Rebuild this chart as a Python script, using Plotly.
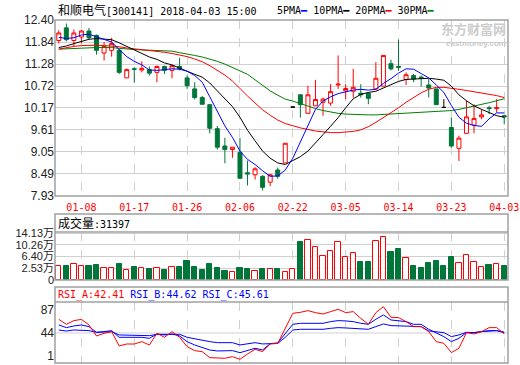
import numpy as np
import plotly.graph_objects as go

dates = ["01-03","01-04","01-05","01-08","01-09","01-10","01-11","01-12","01-15","01-16",
         "01-17","01-18","01-19","01-22","01-23","01-24","01-25","01-26","01-29","01-30",
         "01-31","02-01","02-02","02-05","02-06","02-07","02-08","02-09","02-12","02-13",
         "02-14","02-22","02-23","02-26","02-27","02-28","03-01","03-02","03-05","03-06",
         "03-07","03-08","03-09","03-12","03-13","03-14","03-15","03-16","03-19","03-20",
         "03-21","03-22","03-23","03-26","03-27","03-28","03-29","03-30","04-02","04-03"]

open_p = [11.88,12.20,11.88,11.97,12.12,12.01,11.56,11.63,11.63,10.93,
          11.16,11.13,11.14,11.07,11.22,11.12,11.22,10.93,10.65,10.43,
          10.25,9.64,9.20,9.11,9.04,8.52,8.47,8.43,8.28,8.59,
          8.77,10.19,10.50,10.03,10.22,10.31,10.29,10.75,10.60,10.59,
          10.54,10.54,10.65,10.72,11.29,11.22,10.89,10.99,10.95,10.75,
          10.65,10.18,9.67,9.14,9.52,9.73,9.94,10.17,10.15,9.97]
high_p = [12.14,12.31,12.16,12.15,12.20,12.03,11.84,11.95,11.67,11.17,
          11.20,11.35,11.22,11.24,11.24,11.26,11.44,10.99,10.82,10.47,
          10.25,9.71,9.41,9.17,9.41,8.83,8.66,8.46,8.49,8.65,
          9.27,10.19,10.51,10.73,10.88,10.43,10.77,11.50,10.77,11.16,
          10.77,10.56,11.33,11.50,11.39,11.90,11.07,11.03,10.99,10.90,
          10.65,10.39,9.92,9.46,10.35,10.26,10.13,10.22,10.39,9.97]
low_p = [11.80,11.86,11.73,11.81,11.91,11.52,11.37,11.47,11.03,10.93,
         10.81,11.07,10.99,10.82,11.03,10.92,11.12,10.65,10.38,10.25,
         9.52,9.11,8.76,8.90,8.37,8.20,8.35,8.07,8.18,8.37,
         8.77,10.19,9.92,10.02,10.22,9.97,10.22,10.65,10.39,10.43,
         10.43,10.26,10.62,10.72,11.12,11.11,10.75,10.82,10.71,10.43,
         10.25,10.18,9.16,8.82,9.52,9.52,9.88,10.01,10.05,9.75]
close_p = [12.07,11.90,12.07,12.12,11.95,11.63,11.73,11.80,11.07,11.14,
           11.15,11.17,11.05,11.22,11.12,11.24,11.16,10.73,10.43,10.26,
           9.65,9.17,9.11,9.17,8.38,8.49,8.62,8.15,8.47,8.43,
           9.27,10.19,10.25,10.50,10.38,10.39,10.58,10.77,10.66,10.69,
           10.50,10.41,10.92,11.50,11.16,11.20,11.01,10.90,10.93,10.67,
           10.25,10.18,9.20,9.40,9.94,9.90,9.99,10.15,10.17,9.94]

ma5 = [11.96,11.93,11.95,12.02,12.04,11.97,11.90,11.84,11.65,11.47,
       11.35,11.26,11.13,11.12,11.14,11.16,11.15,11.10,10.99,10.82,
       10.45,10.06,9.71,9.42,9.07,8.86,8.73,8.57,8.43,8.44,
       8.59,8.89,9.30,9.74,10.13,10.34,10.45,10.53,10.57,10.62,
       10.64,10.62,10.64,10.79,10.91,11.05,11.16,11.15,11.04,10.93,
       10.75,10.56,10.23,9.93,9.78,9.72,9.70,9.89,10.04,10.04]
ma10 = [11.70,11.74,11.80,11.86,11.91,11.93,11.92,11.90,11.82,11.73,
        11.62,11.54,11.46,11.40,11.31,11.26,11.17,11.10,11.02,10.95,
        10.80,10.60,10.40,10.20,9.93,9.60,9.33,9.07,8.89,8.77,
        8.73,8.83,8.93,9.07,9.29,9.49,9.70,9.92,10.17,10.40,
        10.51,10.56,10.59,10.67,10.77,10.84,10.89,10.90,10.92,10.92,
        10.90,10.87,10.72,10.50,10.35,10.22,10.13,10.05,9.97,9.93]
ma20 = [11.66,11.70,11.73,11.75,11.76,11.76,11.75,11.74,11.72,11.69,
        11.67,11.65,11.63,11.61,11.58,11.55,11.51,11.47,11.41,11.34,
        11.24,11.13,11.00,10.85,10.65,10.47,10.29,10.12,9.98,9.86,
        9.77,9.71,9.66,9.62,9.58,9.56,9.54,9.54,9.55,9.57,
        9.61,9.69,9.80,9.92,10.04,10.17,10.31,10.44,10.55,10.64,
        10.69,10.69,10.67,10.64,10.61,10.58,10.55,10.52,10.48,10.43]
ma30 = [11.66,11.67,11.68,11.69,11.70,11.70,11.70,11.70,11.68,11.66,
        11.65,11.64,11.63,11.63,11.62,11.61,11.57,11.54,11.50,11.46,
        11.41,11.35,11.28,11.20,11.12,11.02,10.88,10.73,10.60,10.49,
        10.39,10.34,10.27,10.21,10.15,10.10,10.06,10.03,10.01,10.00,
        9.99,9.99,9.99,10.00,10.01,10.02,10.03,10.04,10.05,10.06,
        10.07,10.08,10.10,10.13,10.17,10.21,10.25,10.30,10.35,10.40]

volume = [33000,33000,38600,33000,33000,36300,25400,25400,39600,19800,
          30700,25400,23100,25400,19800,30700,29700,49600,30700,19800,
          39600,27400,16400,12100,27400,23100,16400,23100,23100,23100,
          12100,23100,113500,119200,95000,66100,82700,111500,61800,75100,
          45300,45300,115800,128100,78400,89300,58500,33000,25400,42000,
          49600,33000,61800,42000,69500,45300,28700,36300,38600,31397]

rsi_a = [69.5,60.2,67.0,69.5,59.0,38.4,43.4,46.5,19.7,23.4,
         23.4,27.8,21.6,43.4,35.9,46.5,35.9,18.5,11.0,9.1,
         -2.1,-3.3,-3.3,-0.2,-5.2,4.7,13.5,9.2,23.5,24.5,
         52.8,80.8,82.6,85.8,82.0,79.5,83.9,88.3,82.0,83.9,
         71.4,60.2,82.0,93.2,73.3,72.7,65.2,55.9,55.9,46.5,
         27.8,24.7,7.3,15.4,44.7,42.2,46.5,54.0,54.0,42.41]
rsi_b = [59.0,54.0,57.1,59.0,55.8,45.2,46.5,48.4,35.9,35.9,
         35.9,35.9,34.0,42.1,40.3,42.1,38.4,27.8,21.6,16.6,
         12.2,10.4,10.4,11.0,7.2,11.0,15.3,12.3,24.0,25.5,
         43.4,60.2,62.1,62.1,62.1,62.1,65.2,67.1,66.5,65.2,
         62.1,60.2,69.6,77.7,68.3,67.1,65.2,60.2,60.2,50.9,
         43.4,37.2,27.8,34.1,44.7,44.7,46.5,48.4,48.4,44.62]
rsi_c = [49.6,47.7,49.6,49.6,48.4,45.2,45.2,46.5,40.3,40.3,
         40.3,40.3,39.0,41.5,41.5,42.1,41.5,35.9,32.8,30.9,
         27.8,25.9,25.9,25.9,21.6,23.4,25.9,23.5,24.0,24.5,
         35.9,49.6,50.9,50.9,50.9,50.9,52.7,54.0,53.4,52.7,
         51.5,50.9,55.9,60.9,57.8,57.1,55.9,55.9,55.9,47.8,
         46.5,44.7,37.2,40.3,45.3,44.7,46.5,47.8,48.4,45.61]

price_ticks = [7.93, 8.49, 9.05, 9.61, 10.17, 10.72, 11.28, 11.84, 12.40]
vol_tick_vals = [-13370, 25300, 64000, 102600, 141300]
vol_tick_text = ["0", "2.53万", "6.40万", "10.26万", "14.13万"]
rsi_ticks = [1, 44, 87]
label_dates = ["01-08", "01-17", "01-26", "02-06", "02-22", "03-05", "03-14", "03-23", "04-03"]

RED = "#ff0000"
GREEN = "#00753a"
GRID = "#d0d0d0"
BORDER = "#a0a0a0"
MONO = "DejaVu Sans Mono, Noto Sans CJK SC"
SANS = "Liberation Sans, Arial, Noto Sans CJK SC"

W, H, L, R = 520, 365, 55, 12
PW = W - L - R


def py(px):
    return 1 - px / H


def pxx(px):
    return (px - L) / PW


x = np.arange(len(dates))
o = np.array(open_p)
c = np.array(close_p)
hi = np.array(high_p)
lo = np.array(low_p)
flat = np.isclose(o, c)
prev = np.concatenate([[c[0]], c[:-1]])
up = (c > o) | (flat & (c >= prev))


def masked(arr, m):
    return [float(v) if mm else None for v, mm in zip(arr, m)]


fig = go.Figure()

fig.add_trace(go.Candlestick(
    x=x, open=masked(o, ~flat), high=masked(hi, ~flat), low=masked(lo, ~flat), close=masked(c, ~flat),
    increasing=dict(line=dict(color=RED, width=1), fillcolor="#ffffff"),
    decreasing=dict(line=dict(color=GREEN, width=1), fillcolor=GREEN),
    whiskerwidth=0, xaxis="x", yaxis="y", hoverinfo="skip"))
fig.add_trace(go.Candlestick(
    x=x, open=masked(o, flat), high=masked(hi, flat), low=masked(lo, flat), close=masked(c, flat),
    increasing=dict(line=dict(color="#000000", width=1), fillcolor="#000000"),
    decreasing=dict(line=dict(color="#000000", width=1), fillcolor="#000000"),
    whiskerwidth=0, xaxis="x", yaxis="y", hoverinfo="skip"))

for series, col in [(ma30, "#008000"), (ma20, RED), (ma10, "#000000"), (ma5, "#0000ff")]:
    fig.add_trace(go.Scatter(x=x, y=series, mode="lines", line=dict(color=col, width=1),
                             xaxis="x", yaxis="y", hoverinfo="skip"))

vmin = vol_tick_vals[0]
vol = np.array(volume, dtype=float)
fig.add_trace(go.Bar(
    x=x, y=vol - vmin, base=vmin, width=0.7,
    marker=dict(color=["#ffffff" if u else GREEN for u in up],
                line=dict(color=[RED if u else GREEN for u in up], width=1)),
    xaxis="x2", yaxis="y2", hoverinfo="skip"))

for series, col in [(rsi_c, "#0000ff"), (rsi_b, "#0000ff"), (rsi_a, RED)]:
    fig.add_trace(go.Scatter(x=x, y=series, mode="lines", line=dict(color=col, width=1),
                             xaxis="x3", yaxis="y3", hoverinfo="skip"))

tickpos = [dates.index(d) for d in label_dates]
xcommon = dict(range=[-0.5, len(dates) - 0.5], tickvals=tickpos, showgrid=True, griddash="dash",
               gridcolor=GRID, gridwidth=1, zeroline=False, showline=False, ticks="", fixedrange=True)

fig.update_layout(
    width=W, height=H, margin=dict(l=L, r=R, t=0, b=0, autoexpand=False),
    paper_bgcolor="#ffffff", plot_bgcolor="#ffffff", showlegend=False, bargap=0,
    boxgap=0.25,
    xaxis=dict(**xcommon, anchor="y", ticktext=label_dates, showticklabels=True, ticklabelstandoff=4,
               tickfont=dict(family=MONO, size=10, color=RED), rangeslider=dict(visible=False)),
    xaxis2=dict(**xcommon, anchor="y2", showticklabels=False),
    xaxis3=dict(**xcommon, anchor="y3", showticklabels=False),
    yaxis=dict(domain=[py(196), py(20)], range=[price_ticks[0], price_ticks[-1]],
               tickvals=price_ticks, ticktext=["%.2f" % v for v in price_ticks],
               showgrid=True, gridcolor=GRID, zeroline=False, ticks="",
               tickfont=dict(family=SANS, size=12, color="#222222"), fixedrange=True),
    yaxis2=dict(domain=[py(280), py(232)], range=[vmin, 145600],
                tickvals=vol_tick_vals, ticktext=vol_tick_text,
                showgrid=True, gridcolor=GRID, zeroline=False, ticks="",
                tickfont=dict(family=SANS, size=11, color="#222222"), fixedrange=True),
    yaxis3=dict(domain=[py(363), py(302)], range=[-12.1, 101.9],
                tickvals=rsi_ticks, ticktext=[str(v) for v in rsi_ticks],
                showgrid=False, zeroline=False, ticks="",
                tickfont=dict(family=SANS, size=12, color="#222222"), fixedrange=True),
)

shapes = []
shapes.append(dict(type="line", xref="x3", yref="y3", x0=-0.5, x1=len(dates) - 0.5, y0=44, y1=44,
                   line=dict(color=GRID, width=1), layer="below"))
for top, bot in [(20, 196), (214, 280), (287, 363)]:
    shapes.append(dict(type="rect", xref="paper", yref="paper", x0=0, x1=1, y0=py(bot), y1=py(top),
                       line=dict(color=BORDER, width=1.5), fillcolor="rgba(0,0,0,0)", layer="above"))
for yy in [232, 302]:
    shapes.append(dict(type="line", xref="paper", yref="paper", x0=0, x1=1, y0=py(yy), y1=py(yy),
                       line=dict(color=BORDER, width=1.5), layer="above"))
fig.update_layout(shapes=shapes)

ann = []
ann.append(dict(xref="paper", yref="paper", x=pxx(56), y=py(10), xanchor="left", yanchor="middle",
                showarrow=False, font=dict(family=MONO, size=10, color="#000000"),
                text='<span style="font-size:12px">和顺电气</span>[300141] 2018-04-03 15:00'))
ann.append(dict(xref="paper", yref="paper", x=pxx(275), y=py(10), xanchor="left", yanchor="middle",
                showarrow=False, font=dict(family=MONO, size=10, color="#000000"),
                text='5PMA<span style="color:#0000ff">━</span> 10PMA<span style="color:#000000">━</span> '
                     '20PMA<span style="color:#ff0000">━</span> 30PMA<span style="color:#008000">━</span>'))
ann.append(dict(xref="paper", yref="paper", x=pxx(56), y=py(223), xanchor="left", yanchor="middle",
                showarrow=False, font=dict(family=MONO, size=10, color="#000000"),
                text='<span style="font-size:12px">成交量</span>:%d' % volume[-1]))
ann.append(dict(xref="paper", yref="paper", x=pxx(56), y=py(294.5), xanchor="left", yanchor="middle",
                showarrow=False, font=dict(family=MONO, size=10, color="#000000"),
                text='<span style="color:#ff0000">RSI_A:%.2f</span> <span style="color:#0000ff">RSI_B:%.2f</span>'
                     ' <span style="color:#0000ff">RSI_C:%.2f</span>' % (rsi_a[-1], rsi_b[-1], rsi_c[-1])))
ann.append(dict(xref="paper", yref="paper", x=pxx(507), y=py(28), xanchor="right", yanchor="middle",
                showarrow=False, font=dict(family="Noto Sans CJK SC", size=13, color="#cccccc"),
                text="<b>东方财富网</b>", borderpad=0))
ann.append(dict(xref="paper", yref="paper", x=pxx(507), y=py(44), xanchor="right", yanchor="middle",
                showarrow=False, font=dict(family=SANS, size=8, color="#cccccc"),
                text="<b>eastmoney.com</b>", borderpad=0))
fig.update_layout(annotations=ann)

fig.write_html("out.html", config={"displayModeBar": False},
               post_script="document.body.style.margin='0';document.body.style.padding='0';")
